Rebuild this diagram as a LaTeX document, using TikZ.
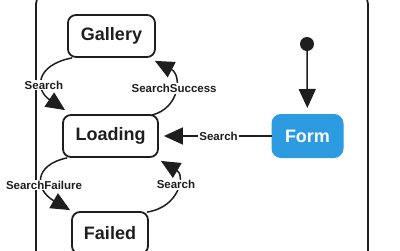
\documentclass[tikz,border=0pt]{standalone}
\usepackage{fontspec}
\setmainfont{Liberation Sans}
\usetikzlibrary{arrows.meta,calc}
\definecolor{formblue}{HTML}{2D9BE0}
\definecolor{ink}{HTML}{1E1E1E}
\tikzset{
  state/.style={draw=ink, line width=1.8pt, rounded corners=8pt, minimum height=42pt,
    font=\fontsize{18}{20}\selectfont\bfseries, text=ink, inner sep=0pt},
  formstate/.style={fill=formblue, draw=formblue, line width=1pt, rounded corners=9pt,
    minimum width=71pt, minimum height=43pt, inner sep=0pt,
    font=\fontsize{18}{20}\selectfont\bfseries, text=white},
  conn/.style={draw=ink, line width=1.5pt, -{Triangle[length=19pt,width=17pt]}},
  lbl/.style={fill=white, inner sep=1pt, font=\fontsize{11.5}{12}\selectfont\bfseries, text=ink},
}
\begin{document}
\begin{tikzpicture}[x=1pt,y=-1pt]
\useasboundingbox (0,0) rectangle (400,250);
\begin{scope}
\clip (0,0) rectangle (400,250);
\draw[ink, line width=1.8pt, rounded corners=12pt] (36,-8) rectangle (368,280);
\node[state, minimum width=87pt] (gallery) at (111.5,36) {Gallery};
\node[state, minimum width=95pt] (loading) at (110.5,136) {Loading};
\node[state, minimum width=76pt] (failed) at (110,233) {Failed};
\node[formstate] (form) at (307.5,136) {Form};
\node[circle, fill=ink, minimum size=14pt, inner sep=0pt] (init) at (307,44) {};

\draw[conn, shorten >=6pt] (init) -- (form);
\draw[conn, shorten >=5pt] (form) -- node[lbl, pos=0.47] {Search} (loading);

\draw[conn] ($(gallery.south west)+(5,0)$) .. controls (35,65) and (35,90) .. node[lbl, pos=0.6] {Search} ($(loading.north west)+(3,-4)$);
\draw[conn] ($(loading.north east)+(-7,1)$) .. controls (180,108) and (182,75) .. node[lbl, pos=0.53] {SearchSuccess} ($(gallery.south east)+(-1,3)$);
\draw[conn] ($(loading.south west)+(5,0)$) .. controls (33,165) and (35,190) .. node[lbl, pos=0.6] {SearchFailure} ($(failed.north west)+(-1,-1)$);
\draw[conn] ($(failed.north east)+(-2,1)$) .. controls (180,207) and (185,175) .. node[lbl, pos=0.58] {Search} ($(loading.south east)+(2,3)$);
\end{scope}
\end{tikzpicture}
\end{document}
